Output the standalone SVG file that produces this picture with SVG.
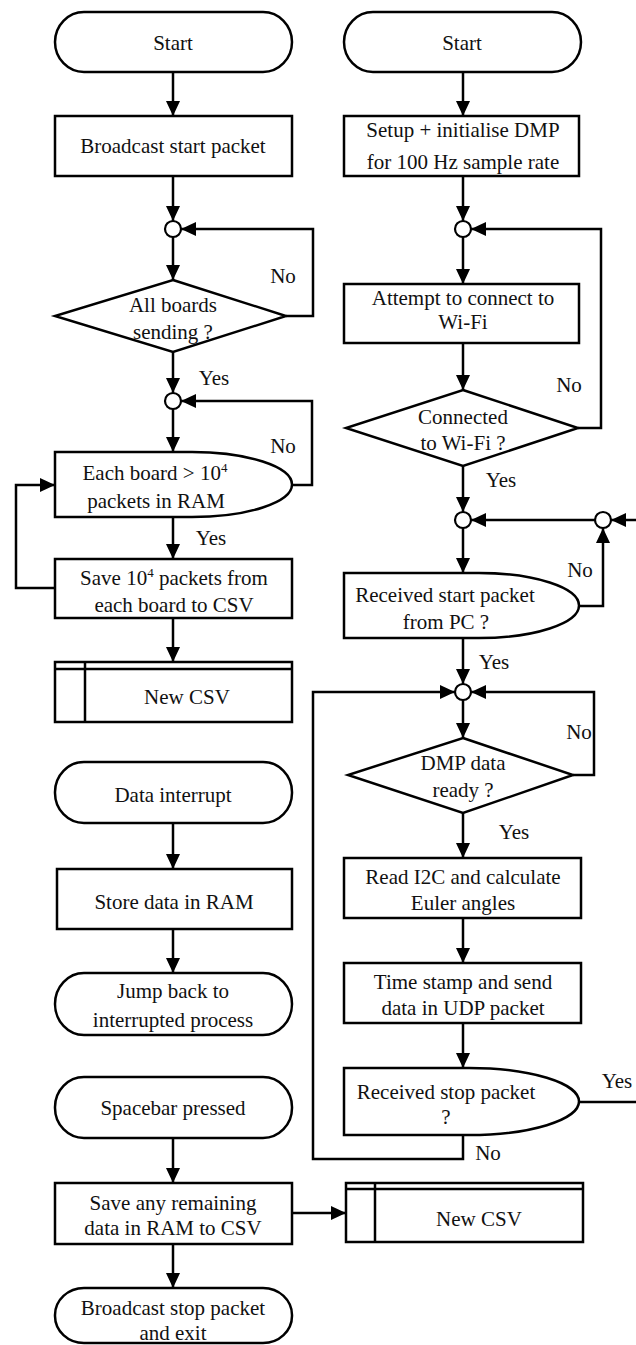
<svg xmlns="http://www.w3.org/2000/svg" width="636" height="1345" viewBox="0 0 636 1345">
<defs>
<style>
.s{fill:#fff;stroke:#000;stroke-width:2.5}
.c{fill:none;stroke:#000;stroke-width:2.5}
.t{font-family:'Liberation Serif','Tinos','Times New Roman','Nimbus Roman','DejaVu Serif',serif;font-size:21px;fill:#111;text-anchor:middle}
.j{fill:#fff;stroke:#000;stroke-width:2.2}
</style>
<marker id="ah" viewBox="0 0 15 14" refX="15" refY="7" markerWidth="15" markerHeight="14" markerUnits="userSpaceOnUse" orient="auto">
<path d="M0,0 L15,7 L0,14 z" fill="#000"/>
</marker>
</defs>
<rect width="636" height="1345" fill="#fff"/>

<g id="connectors">
<line class="c" x1="173" y1="72" x2="173" y2="116" marker-end="url(#ah)"/>
<line class="c" x1="173" y1="176" x2="173" y2="221" marker-end="url(#ah)"/>
<line class="c" x1="173" y1="237" x2="173" y2="280" marker-end="url(#ah)"/>
<polyline class="c" points="286,316 313,316 313,229 181,229" marker-end="url(#ah)"/>
<line class="c" x1="173" y1="352" x2="173" y2="393" marker-end="url(#ah)"/>
<line class="c" x1="173" y1="409" x2="173" y2="452" marker-end="url(#ah)"/>
<polyline class="c" points="292,485 312,485 312,401 181,401" marker-end="url(#ah)"/>
<line class="c" x1="173" y1="517" x2="173" y2="559" marker-end="url(#ah)"/>
<polyline class="c" points="55,588 16,588 16,485 55,485" marker-end="url(#ah)"/>
<line class="c" x1="173" y1="618" x2="173" y2="662" marker-end="url(#ah)"/>
<line class="c" x1="173" y1="823" x2="173" y2="869" marker-end="url(#ah)"/>
<line class="c" x1="173" y1="929" x2="173" y2="973" marker-end="url(#ah)"/>
<line class="c" x1="173" y1="1138" x2="173" y2="1183" marker-end="url(#ah)"/>
<line class="c" x1="292" y1="1213" x2="346" y2="1213" marker-end="url(#ah)"/>
<line class="c" x1="173" y1="1244" x2="173" y2="1288" marker-end="url(#ah)"/>

<line class="c" x1="463" y1="72" x2="463" y2="116" marker-end="url(#ah)"/>
<line class="c" x1="463" y1="176" x2="463" y2="221" marker-end="url(#ah)"/>
<line class="c" x1="463" y1="237" x2="463" y2="284" marker-end="url(#ah)"/>
<polyline class="c" points="578,428 601,428 601,229 471,229" marker-end="url(#ah)"/>
<line class="c" x1="463" y1="343" x2="463" y2="390" marker-end="url(#ah)"/>
<line class="c" x1="463" y1="466" x2="463" y2="512" marker-end="url(#ah)"/>
<line class="c" x1="640" y1="520" x2="611" y2="520" marker-end="url(#ah)"/>
<line class="c" x1="595" y1="520" x2="471" y2="520" marker-end="url(#ah)"/>
<line class="c" x1="463" y1="528" x2="463" y2="573" marker-end="url(#ah)"/>
<polyline class="c" points="579,606 603,606 603,528" marker-end="url(#ah)"/>
<line class="c" x1="463" y1="638" x2="463" y2="684" marker-end="url(#ah)"/>
<polyline class="c" points="463,1135 463,1159 313,1159 313,692 455,692" marker-end="url(#ah)"/>
<polyline class="c" points="573,775 594,775 594,692 471,692" marker-end="url(#ah)"/>
<line class="c" x1="463" y1="700" x2="463" y2="738" marker-end="url(#ah)"/>
<line class="c" x1="463" y1="813" x2="463" y2="858" marker-end="url(#ah)"/>
<line class="c" x1="463" y1="918" x2="463" y2="963" marker-end="url(#ah)"/>
<line class="c" x1="463" y1="1023" x2="463" y2="1068" marker-end="url(#ah)"/>
<line class="c" x1="579" y1="1102" x2="640" y2="1102"/>

<text class="t" x="283" y="283">No</text>
<text class="t" x="214" y="385">Yes</text>
<text class="t" x="283" y="453">No</text>
<text class="t" x="211" y="545">Yes</text>
<text class="t" x="569" y="392">No</text>
<text class="t" x="501" y="487">Yes</text>
<text class="t" x="580" y="577">No</text>
<text class="t" x="494" y="669">Yes</text>
<text class="t" x="579" y="739">No</text>
<text class="t" x="514" y="839">Yes</text>
<text class="t" x="617" y="1088">Yes</text>
<text class="t" x="488" y="1160">No</text>
</g>

<g id="start1">
<rect class="s" x="55" y="12" width="237" height="60" rx="29" ry="30"/>
<text class="t" x="173" y="50">Start</text>
</g>
<g id="broadcast">
<rect class="s" x="55" y="116" width="237" height="60"/>
<text class="t" x="173" y="153">Broadcast start packet</text>
</g>
<g id="join1"><circle class="j" cx="173" cy="229" r="8"/></g>
<g id="allboards">
<polygon class="s" points="173,280 286,316 173,352 55,316"/>
<text class="t" x="173" y="312">All boards</text>
<text class="t" x="173" y="339">sending ?</text>
</g>
<g id="join2"><circle class="j" cx="173" cy="401" r="8"/></g>
<g id="eachboard">
<path class="s" d="M55,452 H192 A100,32.5 0 0 1 192,517 H55 Z"/>
<text class="t" x="155" y="480">Each board &gt; 10<tspan font-size="13" dy="-8">4</tspan></text>
<text class="t" x="156" y="508">packets in RAM</text>
</g>
<g id="save1">
<rect class="s" x="55" y="559" width="237" height="59"/>
<text class="t" x="174" y="585">Save 10<tspan font-size="13" dy="-8">4</tspan><tspan dy="8"> packets from</tspan></text>
<text class="t" x="174" y="612">each board to CSV</text>
</g>
<g id="newcsv1">
<rect class="s" x="55" y="662" width="237" height="60"/>
<line class="c" x1="55" y1="669" x2="292" y2="669"/>
<line class="c" x1="85" y1="662" x2="85" y2="722"/>
<text class="t" x="187" y="704">New CSV</text>
</g>
<g id="datainterrupt">
<rect class="s" x="55" y="762" width="237" height="61" rx="29" ry="30"/>
<text class="t" x="173" y="802">Data interrupt</text>
</g>
<g id="storedata">
<rect class="s" x="57" y="869" width="235" height="60"/>
<text class="t" x="174" y="909">Store data in RAM</text>
</g>
<g id="jumpback">
<rect class="s" x="55" y="973" width="237" height="62" rx="29" ry="31"/>
<text class="t" x="173" y="998">Jump back to</text>
<text class="t" x="173" y="1027">interrupted process</text>
</g>
<g id="spacebar">
<rect class="s" x="55" y="1077" width="237" height="61" rx="29" ry="30"/>
<text class="t" x="173" y="1115">Spacebar pressed</text>
</g>
<g id="saveremaining">
<rect class="s" x="55" y="1183" width="237" height="61"/>
<text class="t" x="173" y="1210">Save any remaining</text>
<text class="t" x="173" y="1235">data in RAM to CSV</text>
</g>
<g id="broadcaststop">
<rect class="s" x="55" y="1288" width="237" height="55" rx="29" ry="27"/>
<text class="t" x="173" y="1315">Broadcast stop packet</text>
<text class="t" x="173" y="1340">and exit</text>
</g>
<g id="newcsv2">
<rect class="s" x="346" y="1183" width="237" height="59"/>
<line class="c" x1="346" y1="1189" x2="583" y2="1189"/>
<line class="c" x1="375" y1="1183" x2="375" y2="1242"/>
<text class="t" x="479" y="1226">New CSV</text>
</g>

<g id="start2">
<rect class="s" x="344" y="12" width="237" height="60" rx="29" ry="30"/>
<text class="t" x="462" y="50">Start</text>
</g>
<g id="setup">
<rect class="s" x="344" y="116" width="235" height="60"/>
<text class="t" x="463" y="137">Setup + initialise DMP</text>
<text class="t" x="463" y="169">for 100 Hz sample rate</text>
</g>
<g id="join3"><circle class="j" cx="463" cy="229" r="8"/></g>
<g id="attempt">
<rect class="s" x="344" y="284" width="235" height="59"/>
<text class="t" x="463" y="305">Attempt to connect to</text>
<text class="t" x="463" y="329">Wi-Fi</text>
</g>
<g id="connected">
<polygon class="s" points="463,390 578,428 463,466 346,428"/>
<text class="t" x="463" y="424">Connected</text>
<text class="t" x="463" y="450">to Wi-Fi ?</text>
</g>
<g id="join4"><circle class="j" cx="463" cy="520" r="8"/></g>
<g id="join5"><circle class="j" cx="603" cy="520" r="8"/></g>
<g id="receivedstart">
<path class="s" d="M344,573 H479 A100,32.5 0 0 1 479,638 H344 Z"/>
<text class="t" x="445" y="602">Received start packet</text>
<text class="t" x="446" y="629">from PC ?</text>
</g>
<g id="join6"><circle class="j" cx="463" cy="692" r="8"/></g>
<g id="dmpready">
<polygon class="s" points="463,738 573,775 463,813 348,775"/>
<text class="t" x="463" y="770">DMP data</text>
<text class="t" x="463" y="797">ready ?</text>
</g>
<g id="readi2c">
<rect class="s" x="344" y="858" width="237" height="60"/>
<text class="t" x="463" y="884">Read I2C and calculate</text>
<text class="t" x="463" y="910">Euler angles</text>
</g>
<g id="timestamp">
<rect class="s" x="344" y="963" width="237" height="60"/>
<text class="t" x="463" y="989">Time stamp and send</text>
<text class="t" x="463" y="1015">data in UDP packet</text>
</g>
<g id="receivedstop">
<path class="s" d="M344,1068 H469 A110,33.5 0 0 1 469,1135 H344 Z"/>
<text class="t" x="446" y="1099">Received stop packet</text>
<text class="t" x="446" y="1124">?</text>
</g>
</svg>
